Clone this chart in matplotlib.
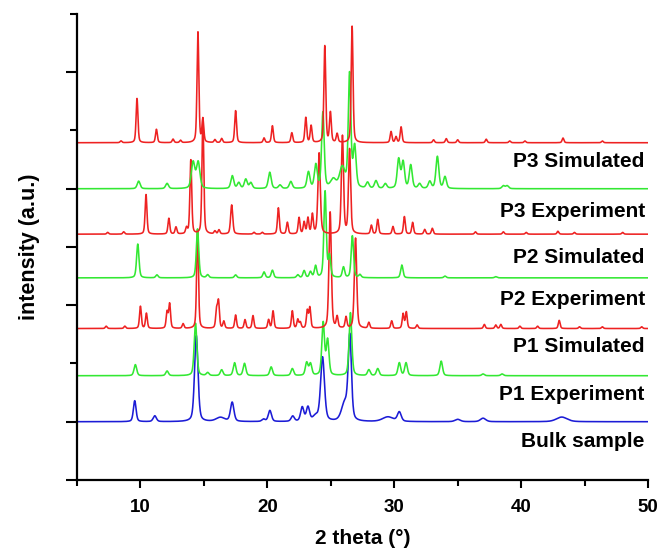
import numpy as np
import matplotlib
matplotlib.use("Agg")
import matplotlib.pyplot as plt
from matplotlib.ticker import FixedLocator

plt.rcParams['font.family'] = ['Liberation Sans', 'DejaVu Sans']

# ---- data: peak lists (2theta, height above baseline, FWHM) per pattern ----
labels = ["Bulk sample", "P1 Experiment", "P1 Simulated", "P2 Experiment",
          "P2 Simulated", "P3 Experiment", "P3 Simulated"]
baselines = [1.0, 1.79, 2.6, 3.47, 4.22, 5.0, 5.79]
label_y = [0.57, 1.37, 2.2, 3.0, 3.72, 4.52, 5.38]
colors = ['#1c1cd6', '#33e833', '#ee2222', '#33e833', '#ee2222', '#33e833', '#ee2222']

bulk_pos = [9.55, 11.13, 14.4, 16.3, 17.23, 19.7, 20.2, 22.0, 22.75, 23.2, 23.8, 24.35, 26.1, 26.5, 29.5, 30.4, 35.0, 37.0, 43.2]
bulk_hgt = [0.36, 0.10, 1.48, 0.07, 0.33, 0.04, 0.19, 0.09, 0.24, 0.24, 0.08, 1.10, 0.30, 1.42, 0.08, 0.16, 0.04, 0.06, 0.08]
bulk_wid = [0.25, 0.3, 0.32, 0.8, 0.32, 0.3, 0.3, 0.3, 0.3, 0.3, 0.5, 0.36, 0.6, 0.3, 1.0, 0.35, 0.5, 0.5, 1.0]

p1e_pos = [9.6, 12.1, 14.34, 15.3, 16.4, 17.42, 18.2, 20.3, 21.97, 23.1, 23.4, 24.4, 24.75, 26.55, 28.0, 28.7, 30.4, 30.93, 33.7, 37.0, 38.5]
p1e_hgt = [0.19, 0.08, 0.90, 0.05, 0.10, 0.22, 0.21, 0.15, 0.12, 0.22, 0.20, 0.90, 0.60, 1.08, 0.10, 0.12, 0.22, 0.22, 0.25, 0.03, 0.03]
p1e_wid = [0.25] * len(p1e_pos)

p1s_pos = [7.3, 8.77, 10.0, 10.47, 12.1, 12.3, 13.36, 14.5, 16.0, 16.15, 16.57, 17.5, 18.24, 18.87, 20.1, 20.45, 21.97, 22.4, 22.6, 23.15, 23.35, 24.95, 25.5, 26.2, 26.95, 28.0, 29.8, 30.7, 30.95, 31.8, 37.1, 38.0, 38.4, 39.9, 41.3, 43.0, 44.6, 46.4, 49.5]
p1s_hgt = [0.04, 0.04, 0.38, 0.26, 0.28, 0.42, 0.08, 1.70, 0.30, 0.45, 0.12, 0.23, 0.15, 0.22, 0.15, 0.30, 0.30, 0.15, 0.10, 0.30, 0.35, 2.00, 0.19, 0.19, 1.55, 0.10, 0.13, 0.25, 0.28, 0.06, 0.07, 0.06, 0.07, 0.04, 0.04, 0.14, 0.03, 0.03, 0.03]
p1s_wid = [0.17] * 21 + [0.22, 0.17, 0.17, 0.22] + [0.17] * 14

p2e_pos = [9.79, 11.3, 14.5, 15.3, 17.5, 19.74, 20.4, 22.4, 22.9, 23.4, 23.8, 24.55, 24.9, 26.0, 26.7, 27.3, 30.6, 34.0, 38.0]
p2e_hgt = [0.58, 0.05, 0.84, 0.05, 0.05, 0.10, 0.13, 0.05, 0.12, 0.10, 0.20, 1.48, 0.36, 0.18, 0.72, 0.05, 0.22, 0.03, 0.02]
p2e_wid = [0.22] * len(p2e_pos)

p2s_pos = [7.42, 8.68, 10.44, 12.24, 12.8, 13.63, 13.97, 14.92, 15.87, 16.19, 17.19, 18.95, 19.6, 20.87, 21.58, 22.5, 22.9, 23.2, 23.55, 24.08, 25.92, 26.48, 28.2, 28.7, 29.9, 30.8, 31.45, 32.4, 33.0, 36.4, 38.6, 40.4, 42.9, 44.2, 48.0]
p2s_hgt = [0.03, 0.04, 0.68, 0.27, 0.12, 0.10, 1.27, 2.00, 0.05, 0.07, 0.50, 0.03, 0.03, 0.45, 0.20, 0.28, 0.20, 0.27, 0.33, 1.39, 1.68, 1.45, 0.15, 0.25, 0.13, 0.30, 0.20, 0.08, 0.10, 0.04, 0.04, 0.03, 0.05, 0.03, 0.03]
p2s_wid = [0.17] * 10 + [0.2] + [0.17] * 8 + [0.22, 0.2, 0.2] + [0.17] * 13

p3e_pos = [9.86, 12.1, 14.15, 14.55, 17.24, 17.75, 18.3, 18.7, 20.19, 21.0, 21.85, 23.24, 23.82, 24.38, 25.2, 25.9, 26.48, 26.88, 27.9, 28.56, 29.3, 30.35, 30.7, 31.3, 32.0, 32.8, 33.4, 34.0, 38.6, 38.9]
p3e_hgt = [0.13, 0.09, 0.45, 0.45, 0.22, 0.10, 0.16, 0.10, 0.28, 0.06, 0.12, 0.28, 0.40, 1.30, 0.15, 0.35, 1.95, 0.70, 0.10, 0.13, 0.08, 0.50, 0.45, 0.40, 0.08, 0.12, 0.55, 0.20, 0.05, 0.05]
p3e_wid = [0.27, 0.27, 0.32, 0.32] + [0.27] * 9 + [0.24, 0.5, 0.5, 0.24] + [0.27] * 13

p3s_pos = [8.47, 9.73, 11.26, 12.57, 13.16, 14.53, 14.92, 15.87, 16.4, 17.5, 19.74, 20.4, 21.93, 23.03, 23.45, 24.53, 24.97, 25.5, 26.68, 29.75, 30.14, 30.54, 33.1, 34.1, 35.0, 37.25, 39.1, 40.3, 43.3, 46.4]
p3s_hgt = [0.03, 0.76, 0.23, 0.06, 0.04, 1.90, 0.39, 0.05, 0.07, 0.55, 0.08, 0.29, 0.17, 0.43, 0.29, 1.66, 0.51, 0.15, 2.00, 0.19, 0.10, 0.27, 0.05, 0.07, 0.05, 0.06, 0.03, 0.03, 0.08, 0.03]
p3s_wid = [0.17] * len(p3s_pos)

patterns = [(bulk_pos, bulk_hgt, bulk_wid), (p1e_pos, p1e_hgt, p1e_wid),
            (p1s_pos, p1s_hgt, p1s_wid), (p2e_pos, p2e_hgt, p2e_wid),
            (p2s_pos, p2s_hgt, p2s_wid), (p3e_pos, p3e_hgt, p3e_wid),
            (p3s_pos, p3s_hgt, p3s_wid)]

x_major = [10, 20, 30, 40, 50]
x_minor = [5, 15, 25, 35, 45]
y_major = [0, 1, 3, 4, 5, 7]
y_minor = [2, 6, 8]


def profile(x, pos, hgt, wid, eta=0.4):
    y = np.zeros_like(x)
    for c, h, w in zip(pos, hgt, wid):
        d = (x - c) / (w / 2.0)
        lor = 1.0 / (1.0 + d ** 2)
        gau = np.exp(-np.log(2) * d ** 2)
        y += h * (eta * lor + (1 - eta) * gau)
    return y


fig = plt.figure(figsize=(6.62, 5.51), dpi=100)
ax = fig.add_axes([0.1163, 0.1289, 0.8626, 0.8457])

x = np.linspace(5, 50, 6000)
for (pos, hgt, wid), base, col in zip(patterns, baselines, colors):
    ax.plot(x, base + profile(x, pos, hgt, wid), color=col, lw=1.15)

for lab, ly in zip(labels, label_y):
    ax.text(49.75, ly, lab, ha='right', va='baseline', fontsize=15,
            fontweight='bold', color='black')

ax.set_xlim(5, 50)
ax.set_ylim(0, 8)
ax.xaxis.set_major_locator(FixedLocator(x_major))
ax.xaxis.set_minor_locator(FixedLocator(x_minor))
ax.yaxis.set_major_locator(FixedLocator(y_major))
ax.yaxis.set_minor_locator(FixedLocator(y_minor))
ax.set_yticklabels([])
ax.tick_params(axis='x', which='major', length=6, width=1.5, labelsize=13.5, pad=8)
ax.tick_params(axis='x', which='minor', length=4, width=1.5)
ax.tick_params(axis='y', which='major', length=8, width=1.5)
ax.tick_params(axis='y', which='minor', length=5, width=1.5)
for lbl in ax.get_xticklabels():
    lbl.set_fontweight('bold')
for s in ['top', 'right']:
    ax.spines[s].set_visible(False)
for s in ['left', 'bottom']:
    ax.spines[s].set_linewidth(1.6)

ax.set_xlabel('2 theta (°)', fontsize=15, fontweight='bold', labelpad=9)
ax.set_ylabel('intensity (a.u.)', fontsize=15.5, fontweight='bold', labelpad=15)

fig.savefig('out.png', dpi=100)
